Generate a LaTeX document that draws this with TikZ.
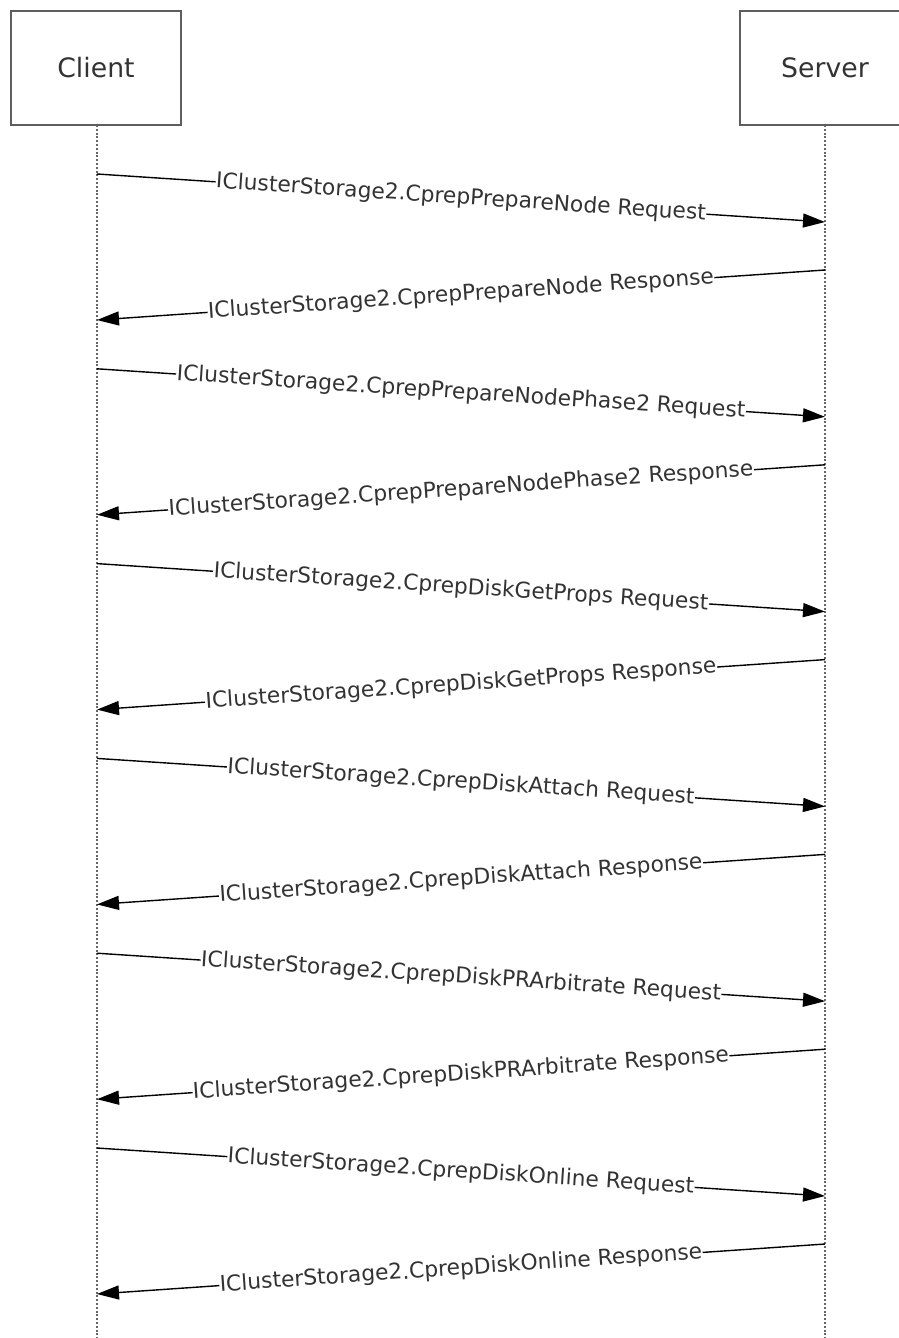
\documentclass[tikz,border=0pt]{standalone}
\usepackage{fontspec}
\setmainfont{DejaVu Sans}
\usetikzlibrary{arrows.meta}
\definecolor{boxgray}{HTML}{5E5E5E}
\definecolor{txtgray}{HTML}{333333}
\definecolor{dotgray}{HTML}{666666}
\tikzset{
  actor/.style={draw=boxgray, line width=2.4pt, fill=white, minimum width=170pt, minimum height=114pt, inner sep=0pt, font=\fontsize{26.7}{30}\selectfont, text=txtgray},
  lifeline/.style={draw=dotgray, line width=2.4pt, dash pattern=on 2pt off 1.8pt},
  msg/.style={draw=black, line width=1.4pt, -{Triangle[length=22pt,width=14pt]}},
  lbl/.style={sloped, pos=0.5, fill=white, inner sep=0.5pt, text=txtgray, font=\fontsize{21.8}{25}\selectfont}
}
\begin{document}
\begin{tikzpicture}[x=1pt,y=-1pt]
\useasboundingbox (0,0) rectangle (899,1338);
\clip (0,0) rectangle (899,1338);
\fill[white] (0,0) rectangle (899,1338);
\node[actor] (client) at (96,68) {Client};
\node[actor] (server) at (825,68) {Server};
\coordinate (cend) at (97,1338);
\coordinate (send) at (825,1338);
\draw[lifeline] (97,125) -- (cend);
\draw[lifeline] (825,125) -- (send);
\foreach \i/\name in {0/CprepPrepareNode,1/CprepPrepareNodePhase2,2/CprepDiskGetProps,3/CprepDiskAttach,4/CprepDiskPRArbitrate,5/CprepDiskOnline}{
  \pgfmathsetmacro{\ya}{174+194.8*\i}
  \pgfmathsetmacro{\yb}{\ya+48}
  \pgfmathsetmacro{\yc}{\ya+96}
  \pgfmathsetmacro{\yd}{\ya+146}
  \coordinate (ca\i) at (97,\ya);
  \coordinate (sb\i) at (825,\yb);
  \coordinate (sc\i) at (825,\yc);
  \coordinate (cd\i) at (97,\yd);
  \draw[msg] (ca\i) -- node[lbl] {IClusterStorage2.\name{} Request} (sb\i);
  \draw[msg] (sc\i) -- node[lbl] {IClusterStorage2.\name{} Response} (cd\i);
}
\end{tikzpicture}
\end{document}
